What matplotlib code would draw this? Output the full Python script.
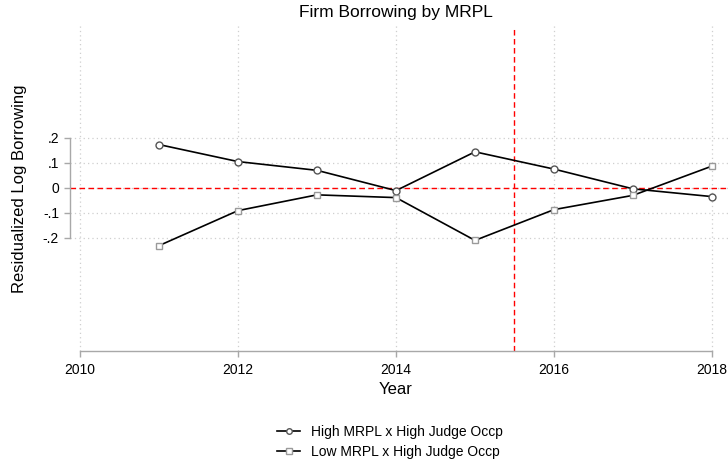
import matplotlib
matplotlib.use("Agg")
import matplotlib.pyplot as plt
from matplotlib.lines import Line2D

plt.rcParams['font.family'] = ['Liberation Sans', 'DejaVu Sans']

# 数据
years = [2011, 2012, 2013, 2014, 2015, 2016, 2017, 2018]
high_mrpl = [0.173, 0.105, 0.070, -0.011, 0.144, 0.075, -0.004, -0.035]
low_mrpl = [-0.231, -0.091, -0.028, -0.039, -0.210, -0.087, -0.030, 0.087]
series_labels = ['High MRPL x High Judge Occp', 'Low MRPL x High Judge Occp']
xticks = [2010, 2012, 2014, 2016, 2018]
yticks = [-0.2, -0.1, 0, 0.1, 0.2]
ytick_labels = ['-.2', '-.1', '0', '.1', '.2']
treat_year = 2015.5

fig = plt.figure(figsize=(7.28, 4.66), dpi=100)
ax = fig.add_axes([70 / 728, 1 - 350.7 / 466, 658 / 728, (350.7 - 26) / 466])

px_per_year = 79.0
ax.set_xlim(2010 - 10 / px_per_year, 2018 + 16 / px_per_year)
ax.set_ylim(-0.651, 0.647)

# 网格线
grid_kw = dict(color='#cfcfcf', linestyle=(0, (1, 2.5)), linewidth=0.9, zorder=0)
for x in xticks:
    ax.axvline(x, **grid_kw)
for y in yticks:
    ax.axhline(y, **grid_kw)

# 参考线
ax.axhline(0, color='#ff0000', linestyle=(0, (4, 2.5)), linewidth=1.0, zorder=1)
ax.axvline(treat_year, color='#ff0000', linestyle=(0, (4, 2.5)), linewidth=1.0, zorder=1)

ax.plot(years, high_mrpl, color='black', linewidth=1.2, marker='o', markersize=5,
        markerfacecolor='white', markeredgecolor='#555555', markeredgewidth=1.0, zorder=3)
ax.plot(years, low_mrpl, color='black', linewidth=1.2, marker='s', markersize=5,
        markerfacecolor='white', markeredgecolor='#9a9a9a', markeredgewidth=1.0, zorder=3)

for s in ['top', 'right']:
    ax.spines[s].set_visible(False)
for s in ['left', 'bottom']:
    ax.spines[s].set_color('#a8a8a8')
    ax.spines[s].set_linewidth(1.0)
ax.spines['left'].set_bounds(-0.2, 0.2)
ax.spines['bottom'].set_bounds(2010, 2018)

ax.set_xticks(xticks)
ax.set_yticks(yticks)
ax.set_yticklabels(ytick_labels)
ax.tick_params(axis='both', direction='out', length=4, width=1.0, color='#a8a8a8',
               labelsize=10, labelcolor='black')
ax.tick_params(axis='x', pad=5)
ax.tick_params(axis='y', pad=4)

fig.text(396 / 728, 1 - 12 / 466, 'Firm Borrowing by MRPL', ha='center', va='center', fontsize=12.5)
fig.text(396 / 728, 1 - 390 / 466, 'Year', ha='center', va='center', fontsize=12)
fig.text(20 / 728, 1 - 189 / 466, 'Residualized Log Borrowing', ha='center', va='center',
         rotation=90, fontsize=12)

# 图例
handles = [
    Line2D([], [], color='black', linewidth=1.2, marker='o', markersize=4,
           markerfacecolor='white', markeredgecolor='#555555'),
    Line2D([], [], color='black', linewidth=1.2, marker='s', markersize=4,
           markerfacecolor='white', markeredgecolor='#9a9a9a'),
]
fig.legend(handles, series_labels, loc='center', bbox_to_anchor=(390 / 728, 1 - 442 / 466),
           frameon=False, fontsize=10, handlelength=1.7, handletextpad=0.8, labelspacing=0.45)

fig.savefig('out.png', dpi=100)
